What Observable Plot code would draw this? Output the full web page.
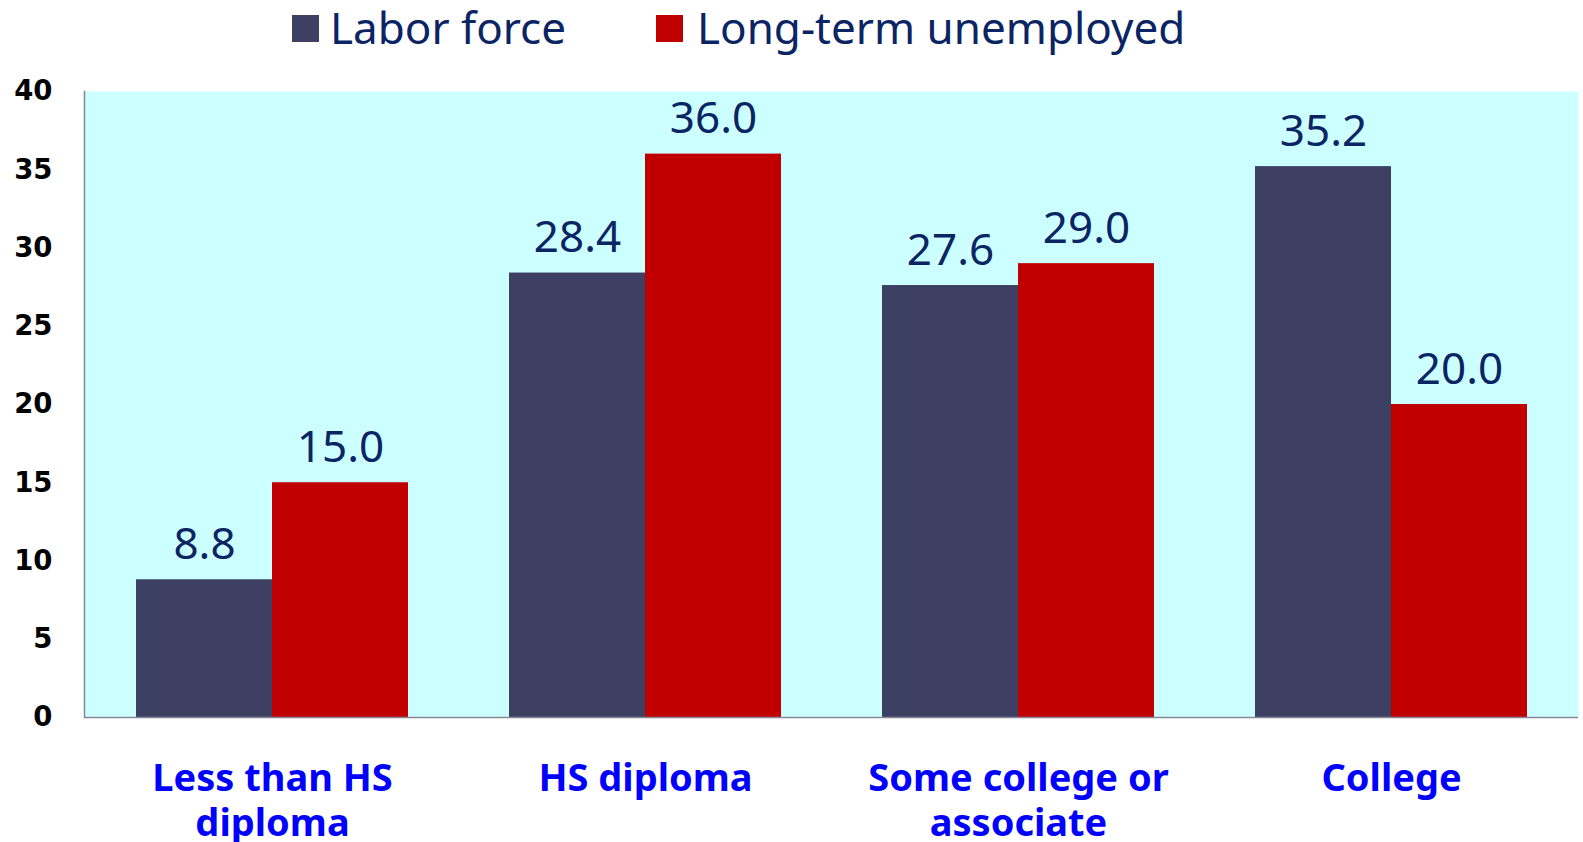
<!DOCTYPE html>
<html><head><meta charset="utf-8">
<script src="https://cdn.jsdelivr.net/npm/d3@7"></script>
<script src="https://cdn.jsdelivr.net/npm/@observablehq/plot@0.6"></script>
<style>
body{margin:0;background:#fff;}
#legend{position:relative;height:60px;width:1583px;font-family:"Noto Sans",sans-serif;font-size:44px;color:#0b2463;}
#legend .sw{position:absolute;top:15px;width:27px;height:27px;}
#legend .lab{position:absolute;top:-3px;line-height:60px;white-space:nowrap;}
</style>
</head><body>
<div id="legend"></div>
<div id="chart"></div>
<script>
const categories = ["Less than HS diploma", "HS diploma", "Some college or associate", "College"];
const categoryLines = ["Less than HS\ndiploma", "HS diploma", "Some college or\nassociate", "College"];
const seriesNames = ["Labor force", "Long-term unemployed"];
const laborForce = [8.8, 28.4, 27.6, 35.2];
const longTermUnemployed = [15.0, 36.0, 29.0, 20.0];
const yTicks = [0, 5, 10, 15, 20, 25, 30, 35, 40];
const colors = ["#3d3f63", "#c00000"];

const data = [];
categories.forEach((c, i) => {
  data.push({category: c, series: seriesNames[0], value: laborForce[i]});
  data.push({category: c, series: seriesNames[1], value: longTermUnemployed[i]});
});

// legend
const legend = document.getElementById("legend");
const legendX = [[292, 330], [656, 697]];
seriesNames.forEach((s, i) => {
  const sw = document.createElement("div");
  sw.className = "sw"; sw.style.left = legendX[i][0] + "px"; sw.style.background = colors[i];
  const lab = document.createElement("div");
  lab.className = "lab"; lab.style.left = legendX[i][1] + "px"; lab.textContent = s;
  legend.append(sw, lab);
});

const labelOf = new Map(categories.map((c, i) => [c, categoryLines[i]]));
const half = 136;
const first = data.filter(d => d.series === seriesNames[0]);
const second = data.filter(d => d.series === seriesNames[1]);
const labelStyle = {lineAnchor: "bottom", textAnchor: "middle", fill: "#0b2463", fontSize: 44, fontFamily: "Noto Sans", dy: -21};

const chart = Plot.plot({
  width: 1583,
  height: 782,
  marginTop: 31,
  marginBottom: 125,
  marginLeft: 84,
  marginRight: 5,
  x: {type: "band", domain: categories, paddingInner: 0.272, paddingOuter: 0.136, label: null},
  y: {domain: [0, 40], label: null},
  marks: [
    Plot.frame({fill: "#ccffff", stroke: "none"}),
    Plot.barY(first, {x: "category", y: "value", fill: colors[0], insetRight: half}),
    Plot.barY(second, {x: "category", y: "value", fill: colors[1], insetLeft: half}),
    Plot.text(first, {x: "category", y: "value", text: d => d.value.toFixed(1), dx: -68, ...labelStyle}),
    Plot.text(second, {x: "category", y: "value", text: d => d.value.toFixed(1), dx: 68, ...labelStyle}),
    Plot.frame({anchor: "left", stroke: "#888899", strokeWidth: 1.5}),
    Plot.ruleY([0], {stroke: "#888899", strokeWidth: 1.5}),
    Plot.axisY({ticks: yTicks, tickSize: 0, tickPadding: 32, fontSize: 27.5, fontWeight: "bold", fontFamily: "DejaVu Sans", fill: "#000"}),
    Plot.axisX({tickSize: 0, tickPadding: 42, tickFormat: c => labelOf.get(c), fontSize: 38, fontWeight: "bold", fontFamily: "Noto Sans", fill: "#0000ff", lineHeight: 1.18})
  ]
});
document.getElementById("chart").append(chart);
</script>
</body></html>
